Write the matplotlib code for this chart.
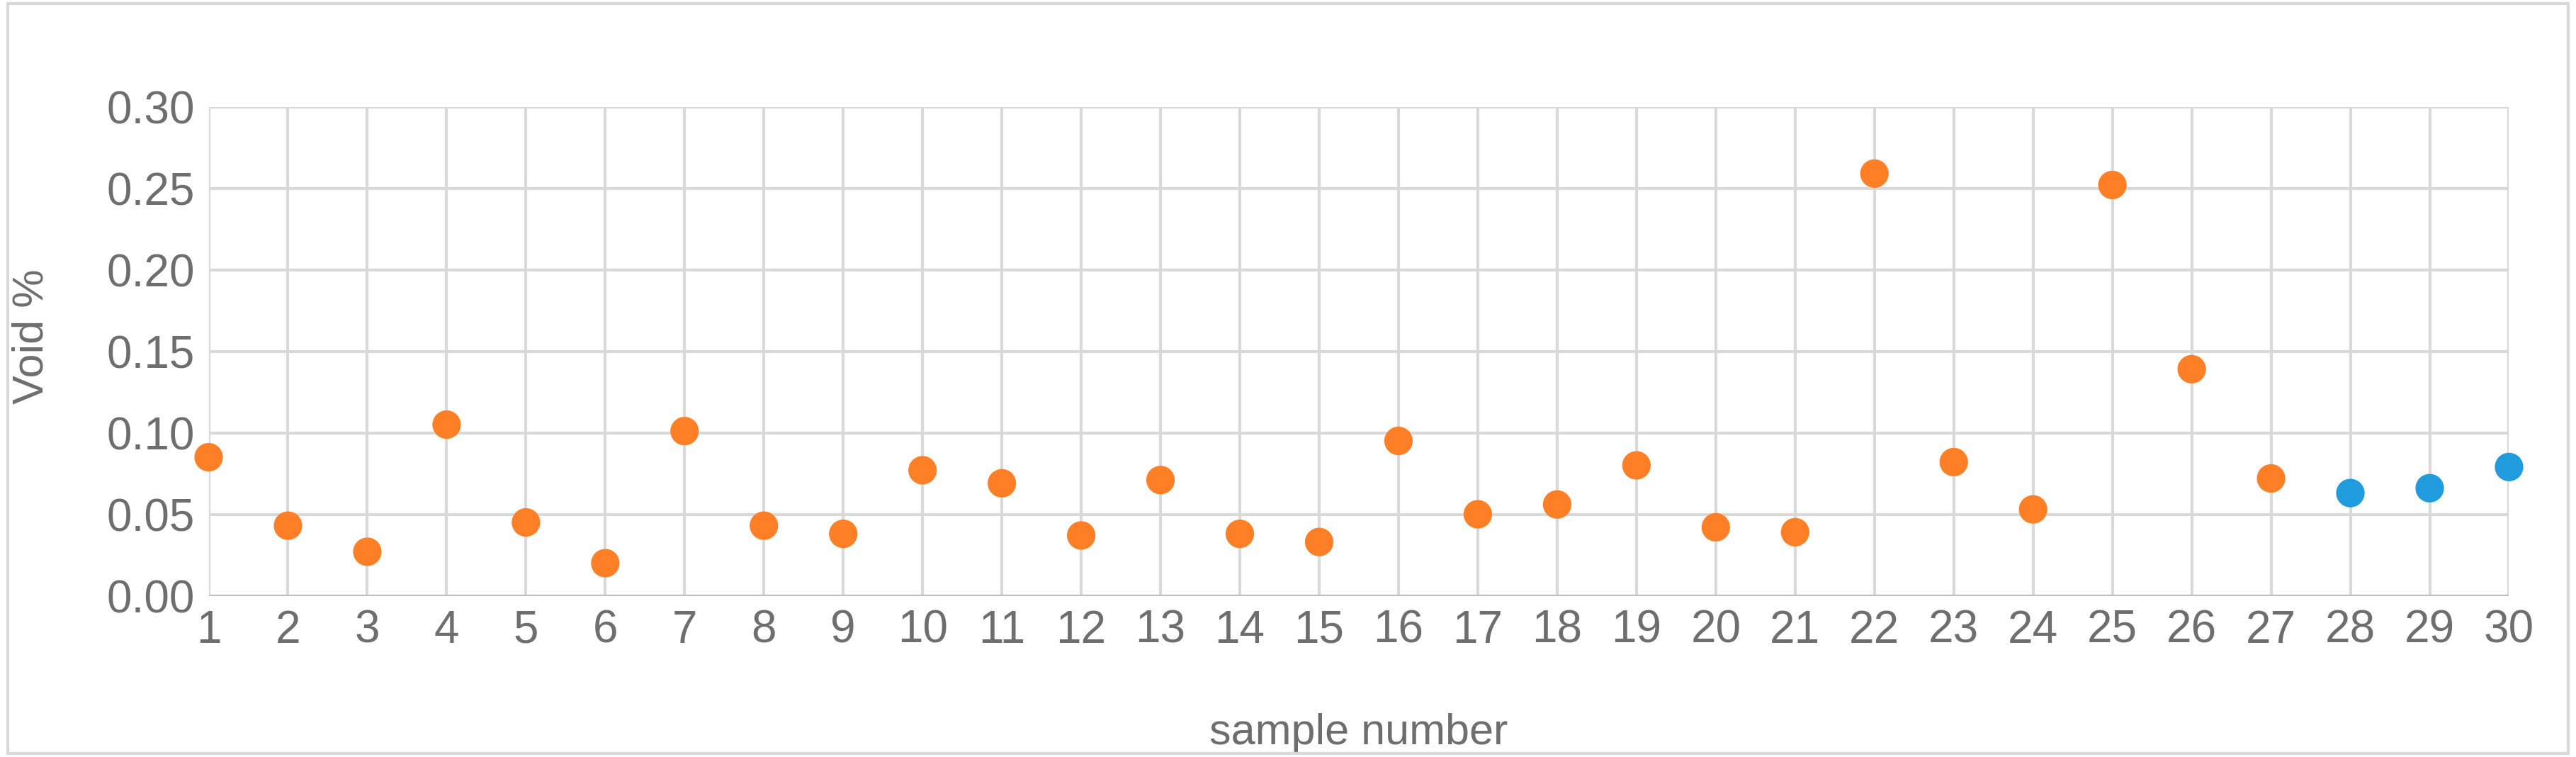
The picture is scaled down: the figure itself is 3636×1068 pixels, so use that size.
import matplotlib.pyplot as plt
import numpy as np

plt.rcParams['font.family'] = ['Liberation Sans', 'DejaVu Sans']

samples = list(range(1, 31))
void_pct = [0.085, 0.043, 0.027, 0.105, 0.045, 0.020, 0.101, 0.043, 0.038, 0.077,
            0.069, 0.037, 0.071, 0.038, 0.033, 0.095, 0.050, 0.056, 0.080, 0.042,
            0.039, 0.259, 0.082, 0.053, 0.252, 0.139, 0.072, 0.063, 0.066, 0.079]
highlight = [28, 29, 30]

fig = plt.figure(figsize=(36.36, 10.68), dpi=100)
ax = fig.add_axes([0.081, 0.213, 0.893, 0.646])

cols = ['#1F9BDE' if s in highlight else '#FF7F27' for s in samples]
ax.scatter(samples, void_pct, s=780, c=cols, zorder=3, clip_on=False)

ax.set_xlim(1, 30)
ax.set_ylim(0, 0.30)
ax.set_xticks(samples)
ax.set_yticks(np.arange(0, 0.31, 0.05))
ax.set_yticklabels(['%.2f' % v for v in np.arange(0, 0.31, 0.05)])
ax.grid(True, color='#D9D9D9', linewidth=3)
ax.set_axisbelow(True)
for s in ax.spines.values():
    s.set_visible(False)
ax.axhline(0, color='#BFBFBF', linewidth=3, zorder=1)
ax.tick_params(length=0, labelsize=46, labelcolor='#6E6E6E', pad=14)
ax.set_xlabel('sample number', fontsize=44, color='#6E6E6E')
ax.xaxis.set_label_coords(0.5, -0.24)
ax.set_ylabel('Void %', fontsize=44, color='#6E6E6E')
ax.yaxis.set_label_coords(-0.068, 0.53)

fig.patches.append(plt.Rectangle((0.003, 0.005), 0.994, 0.99, transform=fig.transFigure,
                                 fill=False, edgecolor='#D9D9D9', linewidth=3))
fig.savefig('out.png', dpi=100, facecolor='white')
